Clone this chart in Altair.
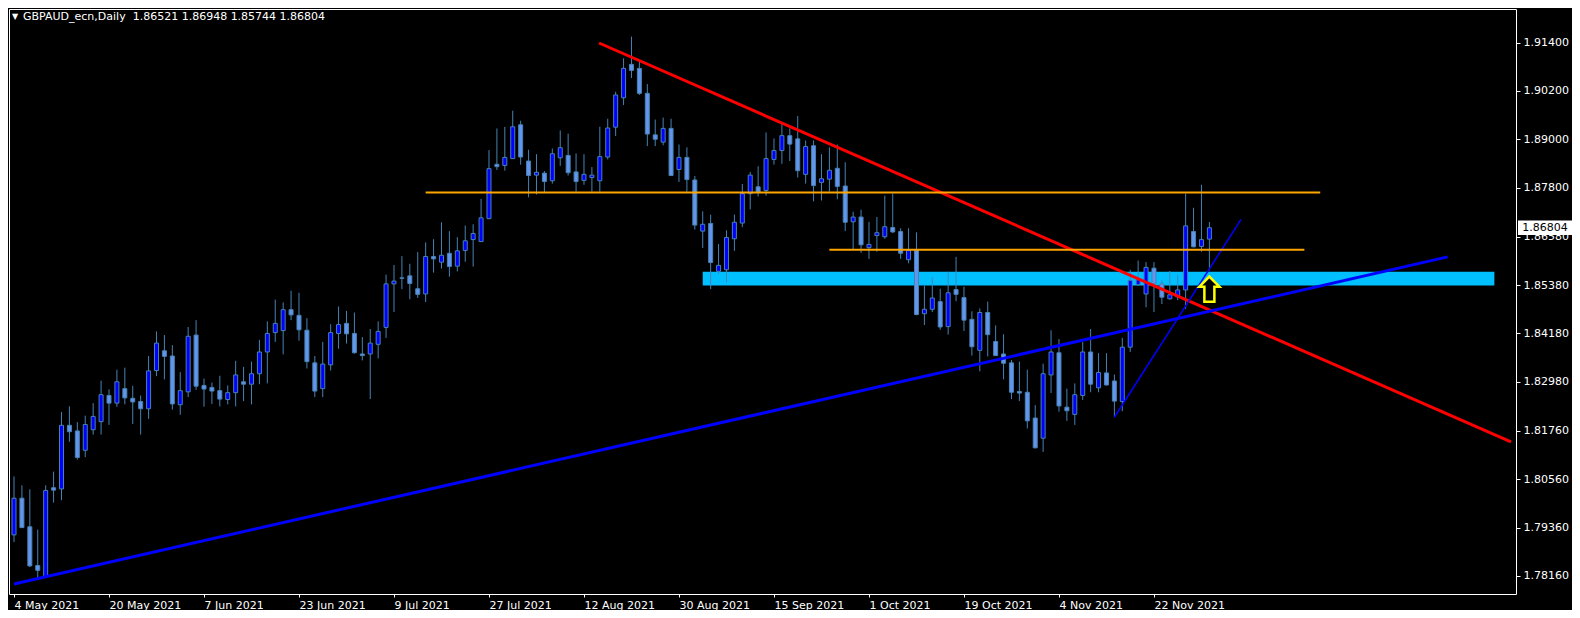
import altair as alt
import pandas as pd

# ---------------- data ----------------
date_labels = ["4 May 2021", "20 May 2021", "7 Jun 2021", "23 Jun 2021", "9 Jul 2021",
               "27 Jul 2021", "12 Aug 2021", "30 Aug 2021", "15 Sep 2021", "1 Oct 2021",
               "19 Oct 2021", "4 Nov 2021", "22 Nov 2021"]
label_bars = [0, 12, 24, 36, 48, 60, 72, 84, 96, 108, 120, 132, 144]

price_ticks = [1.78160, 1.79360, 1.80560, 1.81760, 1.82980, 1.84180,
               1.85380, 1.86580, 1.87800, 1.89000, 1.90200, 1.91400]

opens = [
    1.7918, 1.8009, 1.7938, 1.7842, 1.7814, 1.8035, 1.8032, 1.8190, 1.8176, 1.8128,
    1.8179, 1.8199, 1.8264, 1.8245, 1.8281, 1.8257, 1.8249, 1.8231, 1.8326, 1.8375,
    1.8362, 1.8241, 1.8273, 1.8414, 1.8289, 1.8284, 1.8276, 1.8254, 1.8271, 1.8298,
    1.8292, 1.8318, 1.8372, 1.8420, 1.8425, 1.8477, 1.8463, 1.8426, 1.8345, 1.8281,
    1.8340, 1.8418, 1.8443, 1.8418, 1.8367, 1.8367, 1.8391, 1.8433, 1.8541, 1.8556,
    1.8561, 1.8529, 1.8516, 1.8609, 1.8595, 1.8617, 1.8585, 1.8624, 1.8651, 1.8646,
    1.8703, 1.8838, 1.8835, 1.8852, 1.8936, 1.8846, 1.8811, 1.8816, 1.8797, 1.8854,
    1.8860, 1.8819, 1.8798, 1.8805, 1.8797, 1.8856, 1.8930, 1.9003, 1.9086, 1.9076,
    1.9014, 1.8911, 1.8893, 1.8927, 1.8825, 1.8855, 1.8799, 1.8672, 1.8691, 1.8572,
    1.8576, 1.8653, 1.8692, 1.8765, 1.8782, 1.8773, 1.8850, 1.8872, 1.8909, 1.8901,
    1.8813, 1.8884, 1.8793, 1.8801, 1.8828, 1.8784, 1.8695, 1.8707, 1.8631, 1.8661,
    1.8658, 1.8681, 1.8671, 1.8601, 1.8624, 1.8467, 1.8478, 1.8497, 1.8435, 1.8527,
    1.8507, 1.8453, 1.8376, 1.8470, 1.8398, 1.8367, 1.8345, 1.8274, 1.8272, 1.8208,
    1.8158, 1.8315, 1.8370, 1.8235, 1.8217, 1.8264, 1.8372, 1.8283, 1.8320, 1.8300,
    1.8249, 1.8384, 1.8539, 1.8516, 1.8580, 1.8541, 1.8504, 1.8509, 1.8526, 1.8671,
    1.8634, 1.86521]

highs = [
    1.8063, 1.8041, 1.8031, 1.7931, 1.8041, 1.8075, 1.8223, 1.8237, 1.8198, 1.8214,
    1.8245, 1.8301, 1.8279, 1.8328, 1.8333, 1.8288, 1.8264, 1.8362, 1.8423, 1.8414,
    1.8389, 1.8322, 1.8434, 1.8451, 1.8306, 1.8296, 1.8313, 1.8289, 1.8350, 1.8335,
    1.8348, 1.8402, 1.8448, 1.8502, 1.8495, 1.8524, 1.8519, 1.8456, 1.8362, 1.8397,
    1.8441, 1.8485, 1.8474, 1.8470, 1.8409, 1.8429, 1.8448, 1.8564, 1.8588, 1.8610,
    1.8591, 1.8620, 1.8644, 1.8652, 1.8694, 1.8672, 1.8657, 1.8686, 1.8689, 1.8752,
    1.8873, 1.8927, 1.8931, 1.8971, 1.8946, 1.8874, 1.8863, 1.8821, 1.8877, 1.8922,
    1.8914, 1.8865, 1.8863, 1.8831, 1.8931, 1.8951, 1.9018, 1.9101, 1.9155, 1.9093,
    1.9037, 1.8949, 1.8954, 1.8951, 1.8887, 1.8880, 1.8809, 1.8721, 1.8713, 1.8640,
    1.8674, 1.8713, 1.8789, 1.8819, 1.8833, 1.8917, 1.8902, 1.8939, 1.8927, 1.8958,
    1.8897, 1.8897, 1.8863, 1.8880, 1.8887, 1.8843, 1.8720, 1.8725, 1.8695, 1.8707,
    1.8760, 1.8765, 1.8679, 1.8679, 1.8669, 1.8537, 1.8558, 1.8529, 1.8571, 1.8608,
    1.8534, 1.8473, 1.8480, 1.8497, 1.8438, 1.8416, 1.8352, 1.8348, 1.8328, 1.8240,
    1.8343, 1.8426, 1.8404, 1.8281, 1.8294, 1.8397, 1.8429, 1.8369, 1.8369, 1.8316,
    1.8407, 1.8576, 1.8599, 1.8595, 1.8595, 1.8549, 1.8573, 1.8564, 1.8765, 1.8730,
    1.8787, 1.86948]

lows = [
    1.7900, 1.7935, 1.7838, 1.7810, 1.7813, 1.7998, 1.8004, 1.8149, 1.8105, 1.8111,
    1.8167, 1.8167, 1.8191, 1.8236, 1.8242, 1.8193, 1.8167, 1.8206, 1.8312, 1.8304,
    1.8229, 1.8216, 1.8260, 1.8278, 1.8236, 1.8243, 1.8237, 1.8242, 1.8237, 1.8250,
    1.8242, 1.8292, 1.8294, 1.8397, 1.8366, 1.8451, 1.8400, 1.8331, 1.8260, 1.8260,
    1.8326, 1.8380, 1.8393, 1.8368, 1.8351, 1.8255, 1.8356, 1.8407, 1.8471, 1.8528,
    1.8503, 1.8506, 1.8496, 1.8569, 1.8579, 1.8559, 1.8572, 1.8596, 1.8584, 1.8645,
    1.8702, 1.8824, 1.8822, 1.8852, 1.8837, 1.8756, 1.8763, 1.8768, 1.8790, 1.8834,
    1.8810, 1.8770, 1.8787, 1.8770, 1.8770, 1.8850, 1.8908, 1.8985, 1.9052, 1.9010,
    1.8883, 1.8883, 1.8885, 1.8809, 1.8794, 1.8770, 1.8676, 1.8630, 1.8528, 1.8566,
    1.8545, 1.8623, 1.8682, 1.8726, 1.8758, 1.8760, 1.8837, 1.8839, 1.8846, 1.8805,
    1.8790, 1.8746, 1.8748, 1.8770, 1.8751, 1.8672, 1.8627, 1.8618, 1.8603, 1.8621,
    1.8653, 1.8667, 1.8603, 1.8592, 1.8463, 1.8439, 1.8471, 1.8427, 1.8415, 1.8498,
    1.8424, 1.8363, 1.8324, 1.8361, 1.8362, 1.8304, 1.8255, 1.8250, 1.8182, 1.8133,
    1.8124, 1.8270, 1.8224, 1.8201, 1.8191, 1.8253, 1.8272, 1.8272, 1.8289, 1.8210,
    1.8225, 1.8372, 1.8537, 1.8483, 1.8471, 1.8491, 1.8502, 1.8501, 1.8479, 1.8632,
    1.8621, 1.85744]

closes = [
    1.8009, 1.7936, 1.7841, 1.7830, 1.8028, 1.8029, 1.8190, 1.8174, 1.8110, 1.8192,
    1.8212, 1.8266, 1.8245, 1.8298, 1.8258, 1.8248, 1.8231, 1.8325, 1.8394, 1.8361,
    1.8243, 1.8276, 1.8411, 1.8287, 1.8280, 1.8275, 1.8255, 1.8271, 1.8315, 1.8292,
    1.8318, 1.8372, 1.8418, 1.8443, 1.8477, 1.8464, 1.8427, 1.8348, 1.8275, 1.8342,
    1.8420, 1.8440, 1.8417, 1.8370, 1.8363, 1.8394, 1.8423, 1.8541, 1.8548, 1.8555,
    1.8542, 1.8515, 1.8609, 1.8603, 1.8612, 1.8584, 1.8623, 1.8648, 1.8666, 1.8705,
    1.8827, 1.8832, 1.8855, 1.8931, 1.8856, 1.8810, 1.8818, 1.8795, 1.8864, 1.8879,
    1.8817, 1.8795, 1.8813, 1.8811, 1.8857, 1.8928, 1.9010, 1.9076, 1.9071, 1.9014,
    1.8913, 1.8900, 1.8927, 1.8810, 1.8855, 1.8800, 1.8687, 1.8689, 1.8594, 1.8587,
    1.8656, 1.8694, 1.8765, 1.8811, 1.8769, 1.8852, 1.8872, 1.8909, 1.8888, 1.8822,
    1.8882, 1.8785, 1.8802, 1.8823, 1.8783, 1.8694, 1.8707, 1.8638, 1.8639, 1.8668,
    1.8683, 1.8670, 1.8617, 1.8624, 1.8465, 1.8478, 1.8506, 1.8434, 1.8519, 1.8515,
    1.8451, 1.8385, 1.8470, 1.8415, 1.8363, 1.8344, 1.8272, 1.8270, 1.8201, 1.8134,
    1.8318, 1.8372, 1.8238, 1.8226, 1.8266, 1.8372, 1.8292, 1.8321, 1.8290, 1.8250,
    1.8384, 1.8550, 1.8551, 1.8582, 1.8541, 1.8508, 1.8514, 1.8526, 1.8685, 1.8633,
    1.8651, 1.86804]

# drawn objects (bar index, price)
line_names = ["red trend", "blue trend", "thin blue", "orange top", "orange mid"]
line_x1 = [73.9, 0.0, 139.0, 52.0, 103.0]
line_y1 = [1.9139, 1.7796, 1.8210, 1.8768, 1.8626]
line_x2 = [189.1, 181.1, 155.0, 165.0, 163.0]
line_y2 = [1.8149, 1.8608, 1.8701, 1.8768, 1.8626]
line_colors = ["#FF0000", "#0000FF", "#0000FF", "#FFA500", "#FFA500"]
line_widths = [3.0, 3.0, 1.5, 2.0, 2.0]

zone_x = [87.0, 187.0]
zone_y = [1.8537, 1.8571]

arrow_bar = [151]
arrow_price = [1.8528]

symbol = "GBPAUD_ecn,Daily"

# ---------------- tables ----------------
n = len(opens)
candles = pd.DataFrame({
    "i": list(range(n)), "o": opens, "h": highs, "l": lows, "c": closes,
})
candles["up"] = candles["c"] >= candles["o"]

lines = pd.DataFrame({"name": line_names, "x1": line_x1, "y1": line_y1,
                      "x2": line_x2, "y2": line_y2, "col": line_colors, "w": line_widths})
zone = pd.DataFrame({"x1": [zone_x[0]], "x2": [zone_x[1]], "y1": [zone_y[0]], "y2": [zone_y[1]]})
arrow = pd.DataFrame({"i": arrow_bar, "p": arrow_price})
last = pd.DataFrame({"p": [closes[-1]], "t": [f"{closes[-1]:.5f}"]})
header = (f"{symbol}\u00a0 {opens[-1]:.5f} {highs[-1]:.5f} "
          f"{lows[-1]:.5f} {closes[-1]:.5f}")
head = pd.DataFrame({"t": [header]})

FONT = "DejaVu Sans"
W, H = 1507, 585

label_js = "[" + ",".join(f"'{d}'" for d in date_labels) + "]"

xscale = alt.Scale(domain=[0, 189.1], nice=False, zero=False)
yscale = alt.Scale(domain=[1.77712, 1.92234], nice=False, zero=False)

x_axis = alt.Axis(values=label_bars, labelExpr=f"{label_js}[round(datum.value/12)]",
                  orient="bottom", title=None, grid=False, domain=False,
                  tickColor="#FFFFFF", tickSize=3, labelColor="#FFFFFF",
                  labelFont=FONT, labelFontSize=11, labelAlign="left",
                  labelBaseline="top", labelPadding=2, labelOverlap=False,
                  labelFlush=False, labelBound=False)
y_axis = alt.Axis(values=price_ticks, format=".5f", orient="right", title=None,
                  grid=False, domain=False, tickColor="#FFFFFF", tickSize=4,
                  labelColor="#FFFFFF", labelFont=FONT, labelFontSize=11,
                  labelPadding=3, labelOverlap=False, labelFlush=False)

base = alt.Chart(candles)

zone_layer = alt.Chart(zone).mark_rect(color="#00BFFF", clip=True).encode(
    x=alt.X("x1:Q", scale=xscale, axis=x_axis), x2="x2:Q",
    y=alt.Y("y1:Q", scale=yscale, axis=y_axis), y2="y2:Q")

wicks = base.mark_rule(color="#4682B4", strokeWidth=1, clip=True).encode(
    x=alt.X("i:Q", scale=xscale), y=alt.Y("l:Q", scale=yscale), y2="h:Q")

bodies = base.mark_bar(size=4, stroke="#4682B4", strokeWidth=1, clip=True).encode(
    x=alt.X("i:Q", scale=xscale), y=alt.Y("o:Q", scale=yscale), y2="c:Q",
    fill=alt.Fill("up:N", scale=alt.Scale(domain=[True, False],
                                          range=["#0000FF", "#6495ED"]), legend=None))

line_layer = alt.Chart(lines).mark_rule(clip=True, strokeCap="butt").encode(
    x=alt.X("x1:Q", scale=xscale), x2="x2:Q",
    y=alt.Y("y1:Q", scale=yscale), y2="y2:Q",
    color=alt.Color("col:N", scale=None),
    strokeWidth=alt.StrokeWidth("w:Q", scale=None))

arrow_path = "M0,-1L0.8,-0.2L0.4,-0.2L0.4,1L-0.4,1L-0.4,-0.2L-0.8,-0.2Z"
arrow_layer = alt.Chart(arrow).mark_point(
    shape=arrow_path, size=625, filled=True, fill="#000000", stroke="#FFFF00",
    strokeWidth=2.5, opacity=1).encode(
    x=alt.X("i:Q", scale=xscale), y=alt.Y("p:Q", scale=yscale))

box_path = "M-1,-0.27L1,-0.27L1,0.27L-1,0.27Z"
price_box = alt.Chart(last).mark_point(
    shape=box_path, size=2916, filled=True, fill="#FFFFFF", strokeWidth=0,
    opacity=1).encode(x=alt.value(1536), y=alt.Y("p:Q", scale=yscale))
price_txt = alt.Chart(last).mark_text(
    font=FONT, fontSize=11, color="#000000", align="center", baseline="middle").encode(
    x=alt.value(1536), y=alt.Y("p:Q", scale=yscale), text="t:N")

tri = alt.Chart(head).mark_text(text="▼", font=FONT, fontSize=8, color="#FFFFFF",
                                align="center", baseline="middle").encode(
    x=alt.value(6), y=alt.value(8))
head_txt = alt.Chart(head).mark_text(font=FONT, fontSize=11, color="#FFFFFF",
                                     align="left", baseline="middle").encode(
    x=alt.value(14), y=alt.value(8), text="t:N")

chart = alt.layer(zone_layer, wicks, bodies, line_layer, arrow_layer,
                  price_box, price_txt, tri, head_txt).properties(
    width=W, height=H,
    autosize=alt.AutoSizeParams(type="none"),
    padding={"left": 1, "top": 1, "right": 56, "bottom": 16},
    background="#000000",
).configure_view(stroke="#FFFFFF", strokeWidth=1)

chart.save("out.html", embed_options={"renderer": "svg", "actions": False})
